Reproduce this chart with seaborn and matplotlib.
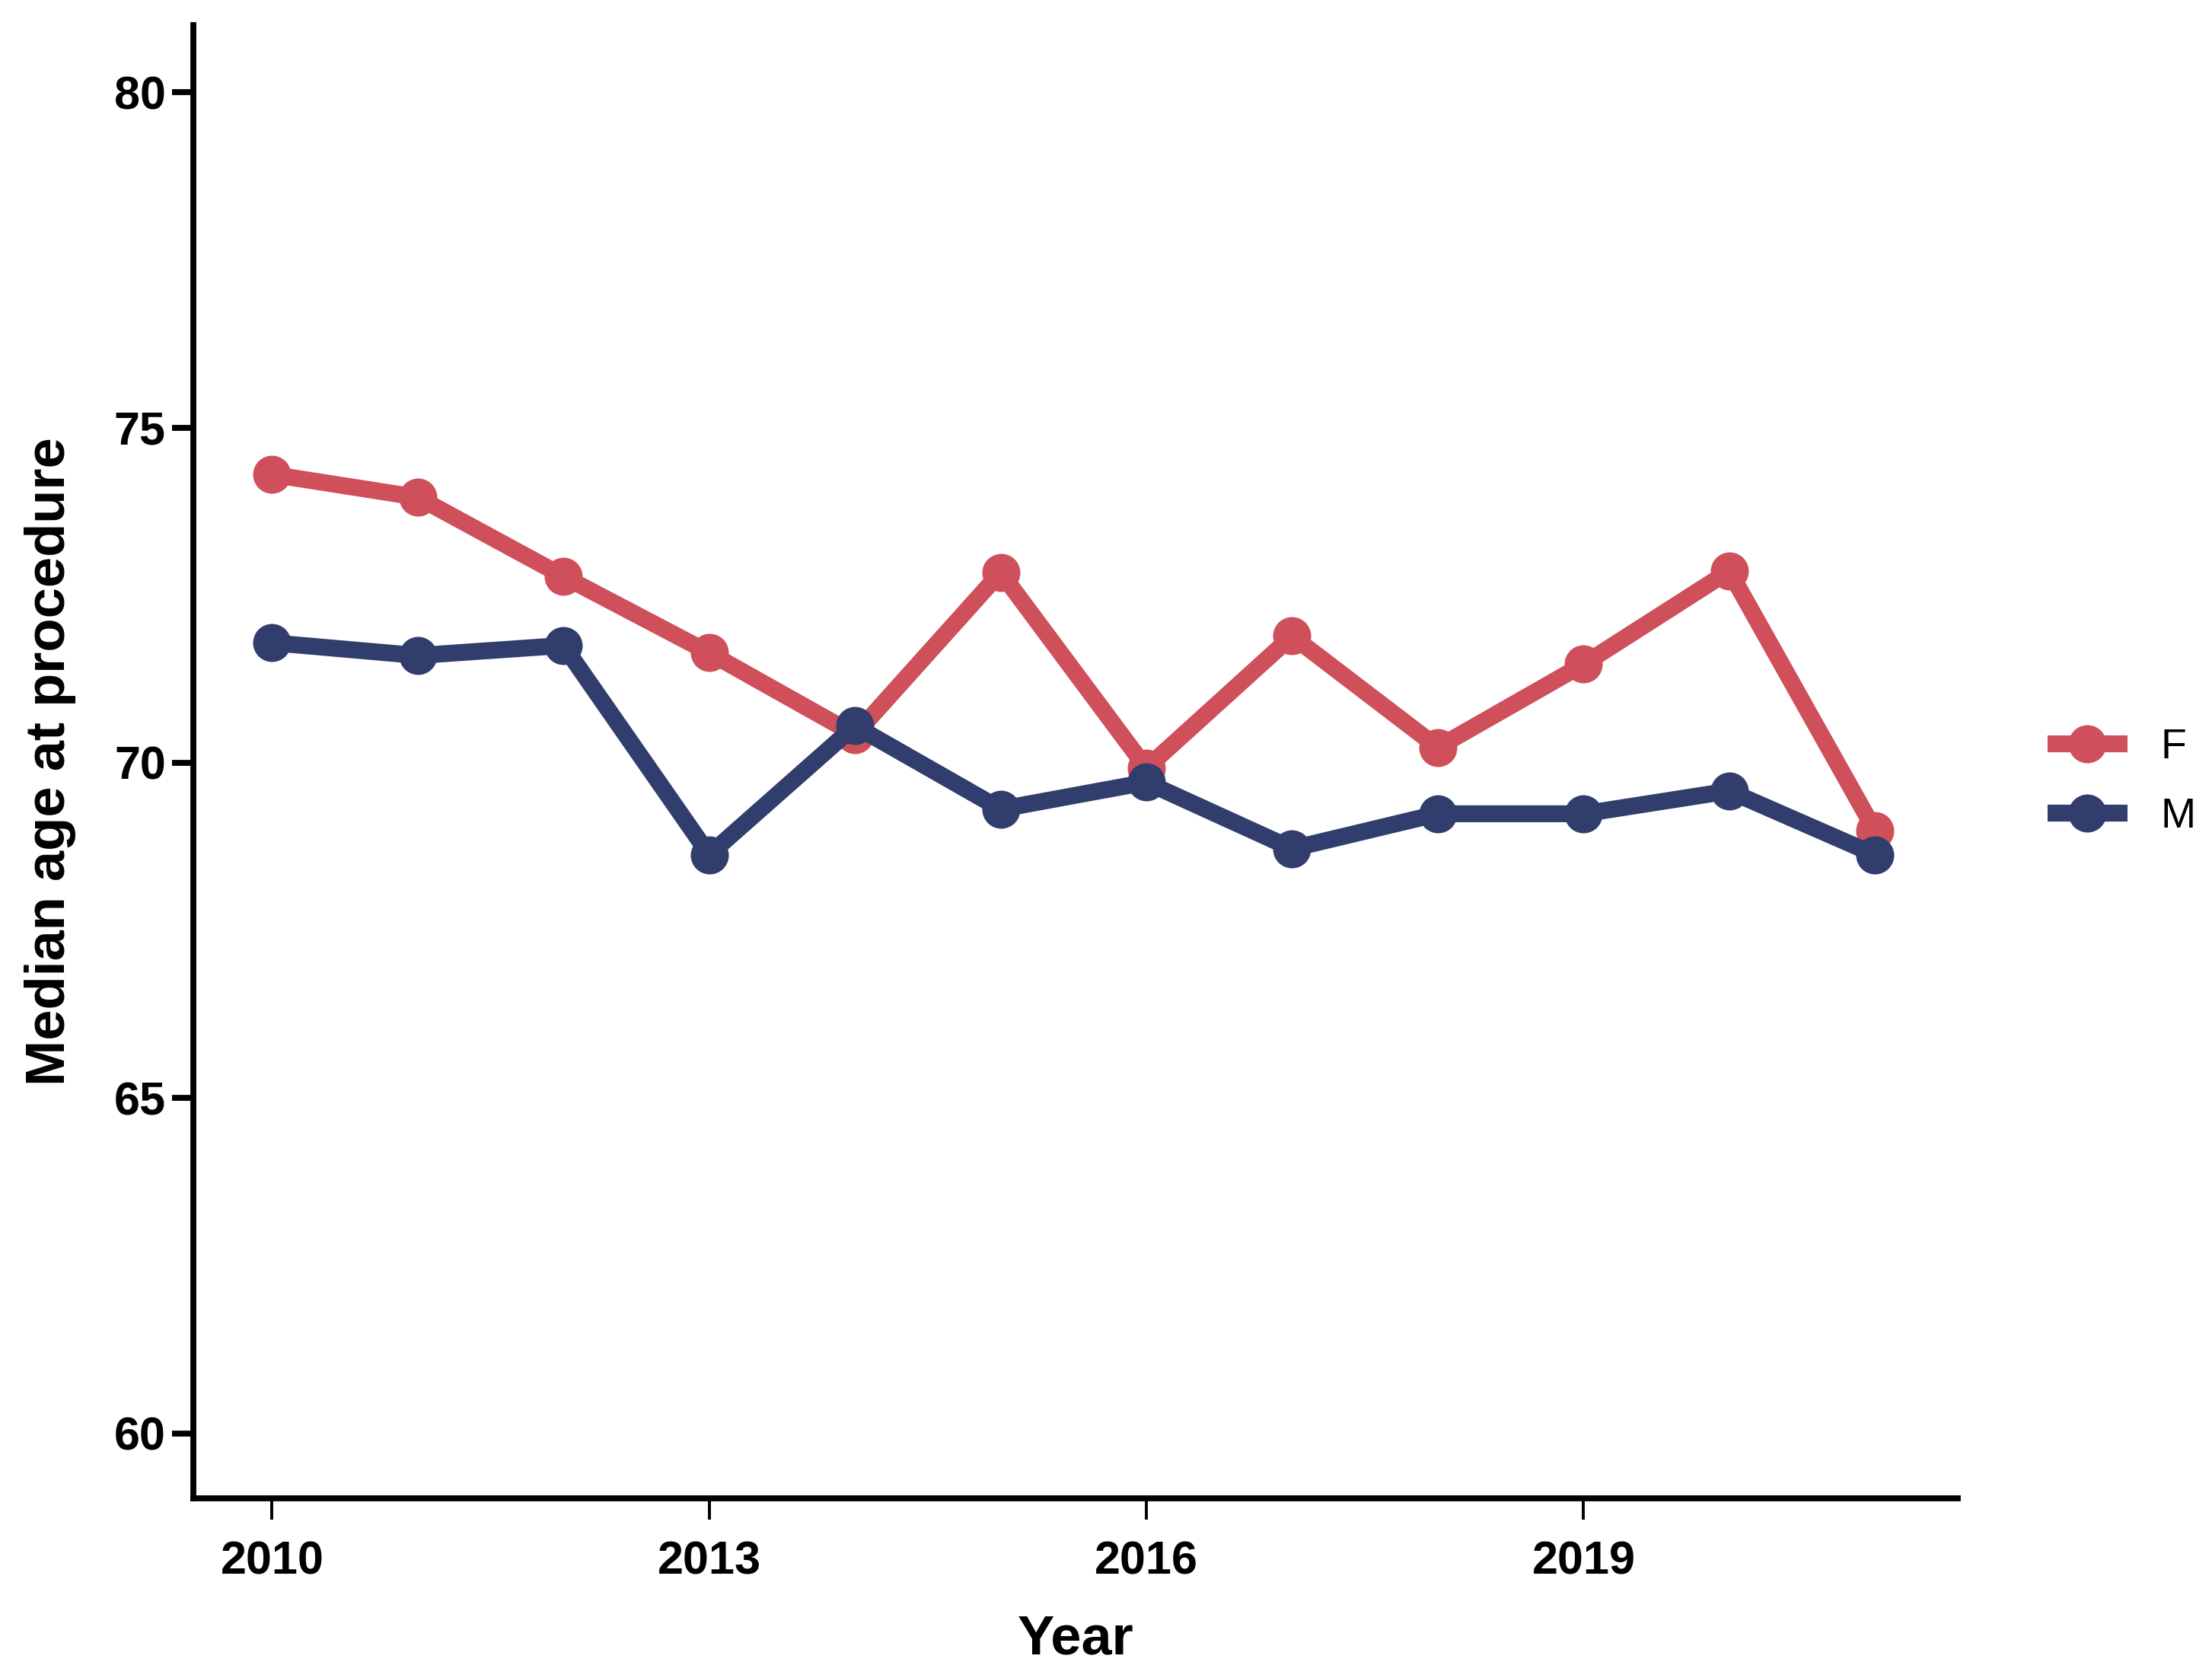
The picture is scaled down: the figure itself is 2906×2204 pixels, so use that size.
import numpy as np
import pandas as pd
import matplotlib
matplotlib.use("Agg")
import matplotlib.pyplot as plt
import seaborn as sns

years = list(range(2010, 2022))
f_values = [74.3, 73.96, 72.78, 71.64, 70.42, 72.84, 69.92, 71.89, 70.23, 71.47, 72.86, 68.99]
m_values = [71.79, 71.6, 71.75, 68.63, 70.55, 69.31, 69.71, 68.72, 69.24, 69.24, 69.58, 68.63]
series_names = ["F", "M"]
colors = {"F": "#CF4F5A", "M": "#313D6C"}
x_ticks = [2010, 2013, 2016, 2019]
y_ticks = [60, 65, 70, 75, 80]

df = pd.DataFrame({
    "Year": years * 2,
    "Age": f_values + m_values,
    "Sex": ["F"] * len(years) + ["M"] * len(years),
})

sns.set_style("ticks")
plt.rcParams["font.family"] = ["Liberation Sans", "DejaVu Sans"]
plt.rcParams["text.color"] = "black"
plt.rcParams["axes.labelcolor"] = "black"
plt.rcParams["xtick.color"] = "black"
plt.rcParams["ytick.color"] = "black"
plt.rcParams["axes.edgecolor"] = "black"

fig = plt.figure(figsize=(14.53, 11.02), dpi=200)
ax = fig.add_axes([0.0874, 0.107, 0.7978, 0.878])

sns.lineplot(data=df, x="Year", y="Age", hue="Sex", hue_order=series_names,
             palette=colors, marker="o", markersize=18, linewidth=8,
             markeredgewidth=0, ax=ax)

ax.set_xlim(2009.46, 2021.57)
ax.set_ylim(59.03, 81.0)
ax.set_xticks(x_ticks)
ax.set_yticks(y_ticks)
ax.set_xticklabels([str(t) for t in x_ticks], fontsize=22, fontweight="bold")
ax.set_yticklabels([str(t) for t in y_ticks], fontsize=22, fontweight="bold")
ax.tick_params(axis="y", length=10, width=2.8, pad=3)
ax.tick_params(axis="x", length=10, width=1.4, pad=10)
for s in ["left", "bottom"]:
    ax.spines[s].set_linewidth(2.8)
sns.despine(ax=ax)

ax.set_xlabel("Year", fontsize=26, fontweight="bold", labelpad=14)
ax.set_ylabel("Median age at procedure", fontsize=26, fontweight="bold", labelpad=18)

leg = ax.legend(loc="center left", bbox_to_anchor=(1.041, 0.486), frameon=False,
                fontsize=20, handlelength=1.9, handletextpad=0.77,
                labelspacing=0.7, borderaxespad=0)
for h in leg.get_lines():
    h.set_linewidth(8)
    h.set_markersize(18)
    h.set_solid_capstyle("butt")

fig.savefig("out.png", dpi=200)
